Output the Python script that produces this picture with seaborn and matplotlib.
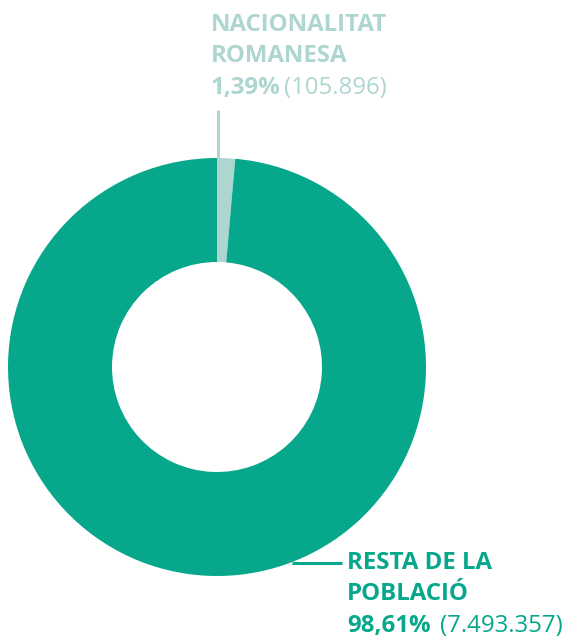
import matplotlib
matplotlib.use("Agg")
import matplotlib.pyplot as plt
import seaborn as sns

categories = ["NACIONALITAT\nROMANESA", "RESTA DE LA\nPOBLACIÓ"]
pct_labels = ["1,39%", "98,61%"]
count_labels = ["(105.896)", "(7.493.357)"]
values = [105896, 7493357]
colors = ["#aed6d1", "#07a78c"]

sns.set_theme(style="white")
plt.rcParams["font.family"] = ["Open Sans", "DejaVu Sans"]

W, H = 583, 640
fig = plt.figure(figsize=(W / 100, H / 100), dpi=100)
ax = fig.add_axes([0, 0, 1, 1])

cx, cy = 217, H - 367
R = 209
ax.pie(values, colors=colors, startangle=90, counterclock=False,
       center=(cx, cy), radius=R, wedgeprops=dict(width=104, linewidth=0),
       frame=True)
ax.set_xlim(0, W)
ax.set_ylim(0, H)
ax.set_aspect("equal")
ax.axis("off")

# leader lines
ax.plot([218, 218], [H - 110, H - 160], color=colors[0], lw=2.2, solid_capstyle="butt")
ax.plot([292, 342], [H - 563, H - 563], color=colors[1], lw=2.2, solid_capstyle="butt")

fs = 17.3
renderer = fig.canvas.get_renderer()

def block(x, base, idx, gap):
    col = colors[idx]
    lines = categories[idx].split("\n")
    step = 31.5
    for i, ln in enumerate(lines):
        ax.text(x, H - base - i * step, ln, color=col, fontsize=fs,
                fontweight="bold", va="baseline", ha="left")
    yy = H - base - len(lines) * step
    t = ax.text(x, yy, pct_labels[idx], color=col, fontsize=fs,
                fontweight="bold", va="baseline", ha="left")
    bb = t.get_window_extent(renderer)
    ax.text(bb.x1 + gap, yy, count_labels[idx], color=col, fontsize=fs,
            fontweight="normal", va="baseline", ha="left")

block(211, 31, 0, 3)
block(347, 569, 1, 9)

fig.savefig("out.png", dpi=100)
